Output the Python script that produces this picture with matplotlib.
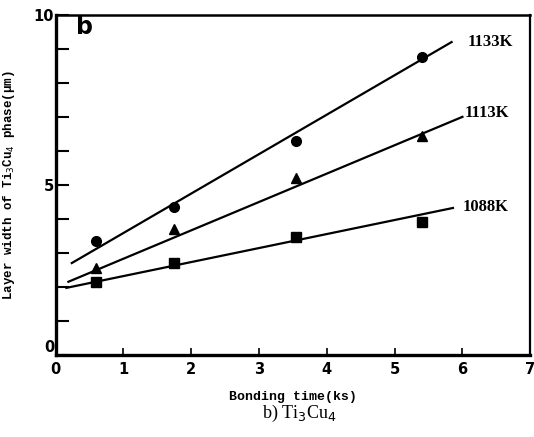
import numpy as np
import matplotlib.pyplot as plt

# measured layer widths (um) vs bonding time (ks)
time_pts = [0.6, 1.75, 3.55, 5.4]
width_1133 = [3.35, 4.35, 6.3, 8.75]
width_1113 = [2.56, 3.7, 5.2, 6.45]
width_1088 = [2.15, 2.7, 3.47, 3.9]

# fitted lines: start/end times and widths
fit_t = {"1133K": [0.24, 5.84], "1113K": [0.19, 6.0], "1088K": [0.16, 5.86]}
fit_w = {"1133K": [2.7, 9.2], "1113K": [2.15, 7.0], "1088K": [1.97, 4.32]}

labels = ["1133K", "1113K", "1088K"]
label_pos = [(6.07, 9.2), (6.03, 7.1), (6.0, 4.35)]

fig = plt.figure(figsize=(5.34, 4.37), dpi=100)
ax = fig.add_axes([0.104, 0.188, 0.889, 0.778])

ax.set_xlim(0, 7)
ax.set_ylim(0, 10)

ax.plot(fit_t["1133K"], fit_w["1133K"], color="black", lw=1.6)
ax.plot(fit_t["1113K"], fit_w["1113K"], color="black", lw=1.6)
ax.plot(fit_t["1088K"], fit_w["1088K"], color="black", lw=1.6)

ax.plot(time_pts, width_1133, "o", color="black", ms=7)
ax.plot(time_pts, width_1113, "^", color="black", ms=7)
ax.plot(time_pts, width_1088, "s", color="black", ms=7)

for lab, (lx, ly) in zip(labels, label_pos):
    ax.text(lx, ly, lab, ha="left", va="center", fontsize=12,
            fontweight="bold", family="Liberation Serif")

ax.text(0.3, 9.65, "b", ha="left", va="center", fontsize=17,
        fontweight="bold", family="DejaVu Sans")

# ticks
ax.set_xticks(np.arange(0, 8, 1))
ax.set_yticks([0, 5, 10])
ax.set_yticks(np.arange(0, 11, 1), minor=True)
ax.tick_params(axis="y", which="both", direction="in", length=9, width=1.5,
               labelsize=10.5, pad=1)
ax.tick_params(axis="x", which="major", direction="in", length=5, width=1.2,
               labelsize=10.5, pad=5)
for lbl in ax.get_xticklabels() + ax.get_yticklabels():
    lbl.set_fontweight("bold")
ax.get_yticklabels()[0].set_va("bottom")

for side, lw in [("left", 2.4), ("bottom", 2.4), ("top", 1.8), ("right", 1.6)]:
    ax.spines[side].set_linewidth(lw)

ax.set_xlabel("Bonding time(ks)", family="Liberation Mono", fontweight="bold",
              fontsize=9.5, labelpad=10)
ax.set_ylabel(r"Layer width of Ti$_3$Cu$_4$ phase(μm)", family="Liberation Mono",
              fontweight="bold", fontsize=9, labelpad=12)

fig.text(0.56, 0.055, r"b) Ti$_3$Cu$_4$", ha="center", va="center",
         fontsize=13, family="Liberation Serif")

fig.savefig("out.png", dpi=100)
